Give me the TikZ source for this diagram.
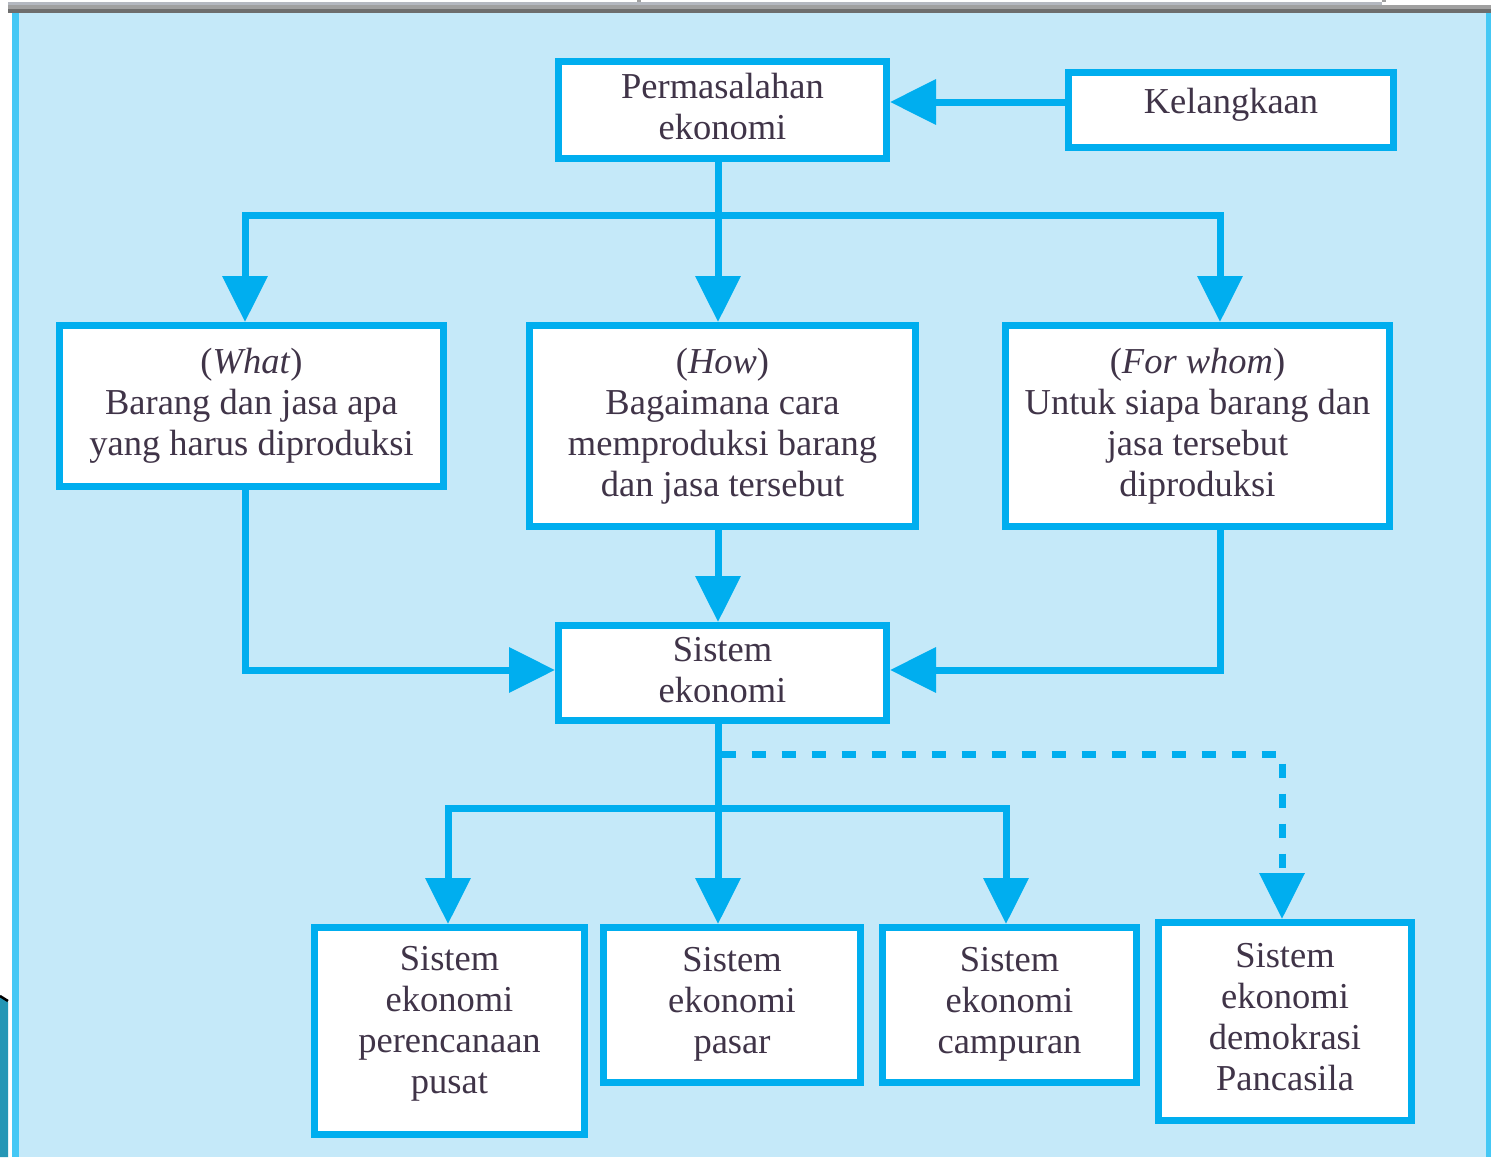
\documentclass[tikz,border=0pt]{standalone}
\usepackage{fontspec}
\setmainfont{Liberation Serif}
\usetikzlibrary{arrows.meta}
\definecolor{bg}{RGB}{197,233,249}
\definecolor{cy}{RGB}{0,174,239}
\definecolor{strip}{RGB}{69,200,245}
\definecolor{txt}{RGB}{64,52,72}
\definecolor{graya}{RGB}{180,184,192}
\definecolor{grayb}{RGB}{160,160,160}
\definecolor{grayc}{RGB}{110,110,110}
\definecolor{teal}{RGB}{37,150,181}
\begin{document}
\begin{tikzpicture}[x=1pt,y=-1pt,
  box/.style={draw=cy, line width=7pt, fill=white, inner sep=0pt},
  lbl/.style={inner sep=0pt, align=center, text=txt, font=\fontsize{36.5}{41}\selectfont},
  conn/.style={draw=cy, line width=7pt},
  arr/.style={conn, shorten >=0pt, -{Triangle[length=46pt,width=44pt]}}]
% background
\useasboundingbox (0,0) rectangle (1491,1157);
\fill[white] (0,0) rectangle (1491,1157);
\fill[graya] (8,2) rectangle (1382,5);
\fill[grayb] (8,5) rectangle (1491,9);
\fill[grayc] (8,9) rectangle (1491,13);
\fill[grayb] (637,0) rectangle (641,2);
\fill[grayb] (1382,0) rectangle (1386,2);
\fill[bg] (12,13) rectangle (1491,1157);
\fill[strip] (12,13) rectangle (19,1157);
\fill[strip] (1486,13) rectangle (1491,1157);
\fill[teal] (0,997) -- (8,1002) -- (8,1157) -- (0,1157) -- cycle;
\draw[black, line width=2.5pt] (0,996) -- (8,1001);
% boxes
\node[box, minimum width=328pt, minimum height=97pt] (P) at (722.5,110) {};
\node[box, minimum width=325pt, minimum height=75pt] (K) at (1231,110) {};
\node[box, minimum width=384pt, minimum height=161pt] (W) at (251.5,406) {};
\node[box, minimum width=386pt, minimum height=201pt] (H) at (722.5,426) {};
\node[box, minimum width=384pt, minimum height=201pt] (F) at (1197.5,426) {};
\node[box, minimum width=328pt, minimum height=95pt] (S) at (722.5,673) {};
\node[box, minimum width=270pt, minimum height=207pt] (B1) at (449.5,1031) {};
\node[box, minimum width=257pt, minimum height=155pt] (B2) at (732,1005) {};
\node[box, minimum width=254pt, minimum height=155pt] (B3) at (1009.5,1005) {};
\node[box, minimum width=253pt, minimum height=198pt] (B4) at (1285,1021.5) {};
% texts
\node[lbl] (Pt) at ([yshift=3pt]P.center) {Permasalahan\\ekonomi};
\node[lbl] (Kt) at ([yshift=5pt]K.center) {Kelangkaan};
\node[lbl] (Wt) at (W.center) {(\textit{What})\\Barang dan jasa apa\\yang harus diproduksi};
\node[lbl] (Ht) at (H.center) {(\textit{How})\\Bagaimana cara\\memproduksi barang\\dan jasa tersebut};
\node[lbl] (Ft) at (F.center) {(\textit{For whom})\\Untuk siapa barang dan\\jasa tersebut\\diproduksi};
\node[lbl] (St) at ([yshift=3pt]S.center) {Sistem\\ekonomi};
\node[lbl] (B1t) at ([yshift=7pt]B1.center) {Sistem\\ekonomi\\perencanaan\\pusat};
\node[lbl] (B2t) at ([yshift=1pt]B2.center) {Sistem\\ekonomi\\pasar};
\node[lbl] (B3t) at ([yshift=1pt]B3.center) {Sistem\\ekonomi\\campuran};
\node[lbl] (B4t) at ([yshift=4pt]B4.center) {Sistem\\ekonomi\\demokrasi\\Pancasila};
% connectors top
\coordinate (t) at (718,215);
\draw[conn] ([xshift=-4.5pt]P.south) -- (t);
\draw[arr] (t) -| ([xshift=-6.5pt]W.north);
\draw[arr] (t) -- ([xshift=-4.5pt]H.north);
\draw[arr] (t) -| ([xshift=22.5pt]F.north);
\draw[arr] ([yshift=8pt]K.west) -- ([yshift=8pt]P.east);
% to sistem
\draw[arr] ([xshift=-6.5pt]W.south) |- ([yshift=3pt]S.west);
\draw[arr] ([xshift=-4.5pt]H.south) -- ([xshift=-4.5pt]S.north);
\draw[arr] ([xshift=22.5pt]F.south) |- ([yshift=3pt]S.east);
% bottom
\coordinate (b) at (718,808);
\coordinate (d) at (721.5,754);
\draw[conn] ([xshift=-4.5pt]S.south) -- (b);
\draw[arr] (b) -| ([xshift=-1.5pt]B1.north);
\draw[arr] (b) -- ([xshift=-14pt]B2.north);
\draw[arr] (b) -| ([xshift=-3.5pt]B3.north);
\draw[arr, dash pattern=on 14pt off 16pt] (d) -| ([xshift=-3pt]B4.north);
\end{tikzpicture}
\end{document}
